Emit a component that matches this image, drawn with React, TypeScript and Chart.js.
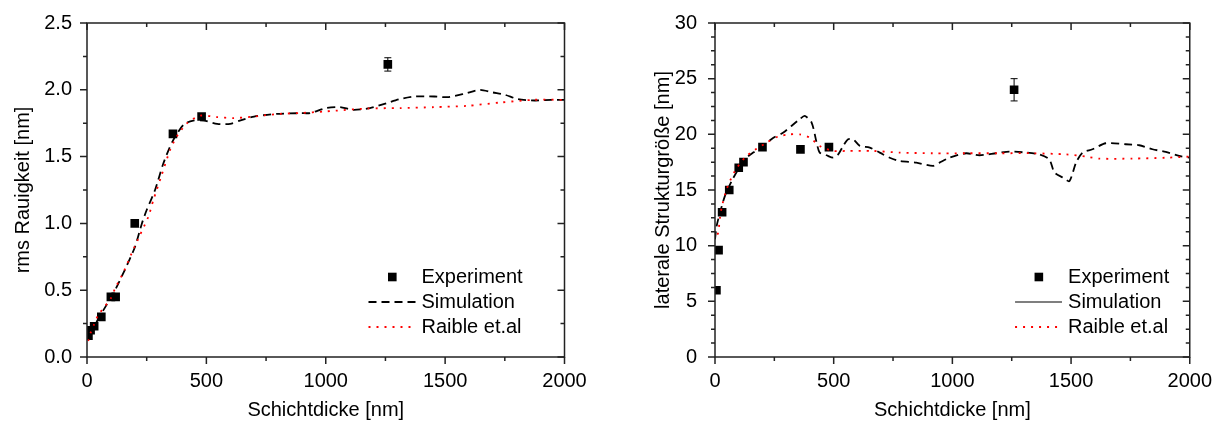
import React, { useEffect, useRef } from "react";
import { Chart, registerables } from "chart.js";

Chart.register(...registerables);

const FONT = '"Liberation Sans", Arial, Helvetica, sans-serif';
const FS = 20;

// Experimental thickness values (nm)
const expX = [6, 15, 30, 60, 100, 120, 200, 360, 480, 1260];
// rms roughness (nm)
const rmsExp = [0.16, 0.2, 0.23, 0.3, 0.45, 0.45, 1.0, 1.67, 1.8, 2.19];
const rmsErr = [0, 0, 0, 0, 0, 0, 0, 0, 0, 0.05];
// lateral structure size (nm)
const latExp = [6.0, 9.6, 13.0, 15.0, 17.0, 17.5, 18.85, 18.65, 18.85, 24.0];
const latErr = [0, 0, 0, 0, 0, 0, 0, 0, 0, 1.0];

// Simulation (rms)
const rmsSimX = [10, 30, 55, 110, 150, 200, 230, 250, 285, 320, 360, 405, 445, 490, 545, 600, 640, 700, 795, 895, 935, 1000, 1060, 1115, 1185, 1255, 1310, 1375, 1455, 1510, 1580, 1645, 1700, 1750, 1805, 1875, 1945, 2000];
const rmsSimY = [0.18, 0.23, 0.31, 0.475, 0.62, 0.82, 1.0, 1.1, 1.25, 1.45, 1.62, 1.74, 1.77, 1.77, 1.745, 1.745, 1.77, 1.8, 1.82, 1.825, 1.826, 1.863, 1.871, 1.85, 1.863, 1.9, 1.93, 1.95, 1.95, 1.945, 1.97, 2.0, 1.98, 1.963, 1.93, 1.92, 1.925, 1.925];
// Raible et al. (rms)
const rmsRaiX = [5, 15, 30, 47, 100, 117, 155, 187, 222, 257, 278, 313, 348, 376, 419, 474, 544, 614, 697, 809, 893, 998, 1173, 1312, 1453, 1593, 1732, 1872, 2000];
const rmsRaiY = [0.12, 0.18, 0.245, 0.313, 0.44, 0.51, 0.643, 0.776, 0.913, 1.05, 1.175, 1.363, 1.55, 1.65, 1.75, 1.806, 1.796, 1.788, 1.8, 1.82, 1.826, 1.838, 1.86, 1.863, 1.87, 1.88, 1.905, 1.925, 1.925];

// Simulation (lateral)
const latSimX = [0, 7, 21, 42, 70, 98, 133, 161, 203, 246, 288, 322, 357, 378, 407, 428, 441, 470, 498, 519, 540, 561, 582, 610, 652, 694, 736, 778, 848, 918, 946, 988, 1058, 1114, 1184, 1240, 1311, 1366, 1408, 1430, 1465, 1493, 1521, 1549, 1590, 1646, 1730, 1787, 1843, 1899, 1955, 2000];
const latSimY = [10.57, 11.77, 12.97, 14.47, 15.8, 16.86, 17.9, 18.36, 18.96, 19.7, 20.16, 20.75, 21.36, 21.65, 21.06, 19.26, 18.36, 18.12, 17.9, 18.2, 18.96, 19.56, 19.56, 18.96, 18.81, 18.36, 17.9, 17.6, 17.46, 17.16, 17.46, 17.9, 18.3, 18.12, 18.3, 18.45, 18.36, 18.2, 17.76, 16.57, 16.12, 15.8, 17.46, 18.36, 18.66, 19.2, 19.11, 19.02, 18.66, 18.42, 18.06, 17.9];
// Raible et al. (lateral)
const latRaiX = [10, 14, 21, 28, 49, 84, 133, 218, 266, 315, 357, 399, 441, 497, 553, 665, 778, 918, 1058, 1198, 1338, 1479, 1563, 1619, 1759, 1899, 2000];
const latRaiY = [11.0, 11.18, 12.52, 13.42, 15.07, 16.71, 18.06, 19.26, 19.8, 20.0, 20.0, 19.71, 18.96, 18.51, 18.51, 18.51, 18.36, 18.3, 18.3, 18.3, 18.3, 18.2, 18.0, 17.82, 17.82, 17.9, 18.0];

const legendLabels = ["Experiment", "Simulation", "Raible et.al"];

const zip = (xs: number[], ys: number[]) => xs.map((x, i) => ({ x, y: ys[i] }));

const framePlugin = {
  id: "frameTicks",
  afterDatasetsDraw(chart: any) {
    const o = chart.options.plugins.frameTicks;
    const { ctx, chartArea: a, scales } = chart;
    const xs = scales.x;
    const ys = scales.y;
    ctx.save();
    // error bars
    chart.data.datasets.forEach((ds: any) => {
      if (!ds.errors) return;
      ctx.strokeStyle = "#000";
      ctx.lineWidth = 1;
      ds.data.forEach((p: any, i: number) => {
        const e = ds.errors[i];
        if (!e) return;
        const px = xs.getPixelForValue(p.x);
        const t = ys.getPixelForValue(p.y + e);
        const b = ys.getPixelForValue(p.y - e);
        ctx.beginPath();
        ctx.moveTo(px, t);
        ctx.lineTo(px, b);
        ctx.moveTo(px - 3.5, t);
        ctx.lineTo(px + 3.5, t);
        ctx.moveTo(px - 3.5, b);
        ctx.lineTo(px + 3.5, b);
        ctx.stroke();
      });
    });
    // frame
    ctx.strokeStyle = "#222";
    ctx.lineWidth = 1.5;
    ctx.strokeRect(a.left, a.top, a.right - a.left, a.bottom - a.top);
    const isMajor = (v: number, step: number) => Math.abs(v / step - Math.round(v / step)) < 1e-6;
    ctx.beginPath();
    const nx = Math.round((xs.max - xs.min) / o.xMinor);
    for (let k = 0; k <= nx; k++) {
      const v = xs.min + k * o.xMinor;
      const len = isMajor(v, o.xMajor) ? 7 : 4;
      const px = xs.getPixelForValue(v);
      ctx.moveTo(px, a.bottom);
      ctx.lineTo(px, a.bottom + len);
      ctx.moveTo(px, a.top);
      ctx.lineTo(px, a.top + len);
    }
    const ny = Math.round((ys.max - ys.min) / o.yMinor);
    for (let k = 0; k <= ny; k++) {
      const v = ys.min + k * o.yMinor;
      const len = isMajor(v, o.yMajor) ? 7 : 4;
      const py = ys.getPixelForValue(v);
      ctx.moveTo(a.left - len, py);
      ctx.lineTo(a.left, py);
      ctx.moveTo(a.right - len, py);
      ctx.lineTo(a.right, py);
    }
    ctx.stroke();

    // legend
    const tx = a.right - o.legendRight;
    const rows = [a.bottom - 80, a.bottom - 55, a.bottom - 30];
    ctx.font = `${FS}px ${FONT}`;
    ctx.textBaseline = "middle";
    ctx.textAlign = "left";
    chart.data.datasets.forEach((ds: any, i: number) => {
      const ry = rows[i];
      ctx.setLineDash([]);
      if (i === 0) {
        ctx.fillStyle = ds.backgroundColor;
        ctx.fillRect(tx - 33.5, ry - 4.3, 8.6, 8.6);
      } else {
        ctx.strokeStyle = ds.borderColor;
        ctx.lineWidth = i === 1 && o.solidSimLegend ? 1.2 : ds.borderWidth;
        ctx.setLineDash(i === 1 && o.solidSimLegend ? [] : ds.borderDash);
        ctx.beginPath();
        ctx.moveTo(tx - 53, ry);
        ctx.lineTo(tx - 6, ry);
        ctx.stroke();
        ctx.setLineDash([]);
      }
      ctx.fillStyle = "#000";
      ctx.fillText(legendLabels[i], tx, ry);
    });
    ctx.restore();
  },
};

type Cfg = {
  expY: number[];
  expErr: number[];
  simX: number[];
  simY: number[];
  raiX: number[];
  raiY: number[];
  yMax: number;
  yStep: number;
  yMinor: number;
  yTitle: string;
  yDecimals: number;
  yWidth: number;
  yTitlePad: number;
  yTickPad: number;
  padRight: number;
  legendRight: number;
  solidSimLegend: boolean;
};

function Panel({ cfg }: { cfg: Cfg }) {
  const ref = useRef<HTMLCanvasElement | null>(null);
  useEffect(() => {
    if (!ref.current) return;
    const chart = new Chart(ref.current, {
      type: "scatter",
      data: {
        datasets: [
          {
            label: legendLabels[0],
            data: zip(expX, cfg.expY),
            errors: cfg.expErr,
            pointStyle: "rect",
            pointRadius: 6.1,
            backgroundColor: "#000",
            borderColor: "#000",
            borderWidth: 0,
            showLine: false,
            order: 3,
          } as any,
          {
            label: legendLabels[1],
            data: zip(cfg.simX, cfg.simY),
            showLine: true,
            pointRadius: 0,
            borderColor: "#000",
            backgroundColor: "#000",
            borderWidth: 1.8,
            borderDash: [8, 5],
            tension: 0.25,
            order: 2,
          },
          {
            label: legendLabels[2],
            data: zip(cfg.raiX, cfg.raiY),
            showLine: true,
            pointRadius: 0,
            borderColor: "#ff0000",
            backgroundColor: "#ff0000",
            borderWidth: 1.8,
            borderDash: [2, 6],
            tension: 0.25,
            order: 1,
          },
        ],
      },
      options: {
        animation: false,
        responsive: false,
        events: [],
        layout: { padding: { left: 0, right: cfg.padRight, top: 23, bottom: 0 } },
        scales: {
          x: {
            type: "linear",
            min: 0,
            max: 2000,
            grid: { display: false },
            border: { display: false },
            ticks: {
              stepSize: 500,
              color: "#000",
              font: { family: FONT, size: FS },
              padding: 4,
              maxRotation: 0,
              callback: (v: any) => String(Math.round(Number(v))),
            },
            title: {
              display: true,
              text: "Schichtdicke [nm]",
              color: "#000",
              font: { family: FONT, size: FS },
              padding: { top: 0, bottom: 0 },
            },
            afterFit: (s: any) => {
              s.height = 65;
            },
          },
          y: {
            type: "linear",
            min: 0,
            max: cfg.yMax,
            grid: { display: false },
            border: { display: false },
            ticks: {
              stepSize: cfg.yStep,
              color: "#000",
              font: { family: FONT, size: FS },
              padding: cfg.yTickPad,
              callback: (v: any) => Number(v).toFixed(cfg.yDecimals),
            },
            title: {
              display: true,
              text: cfg.yTitle,
              color: "#000",
              font: { family: FONT, size: FS },
              padding: { top: cfg.yTitlePad, bottom: 0 },
            },
            afterFit: (s: any) => {
              s.width = cfg.yWidth;
            },
          },
        },
        plugins: {
          legend: { display: false },
          tooltip: { enabled: false },
          frameTicks: {
            xMajor: 500,
            xMinor: 250,
            yMajor: cfg.yStep,
            yMinor: cfg.yMinor,
            legendRight: cfg.legendRight,
            solidSimLegend: cfg.solidSimLegend,
          },
        } as any,
      },
      plugins: [framePlugin],
    } as any);
    return () => chart.destroy();
  }, [cfg]);
  return <canvas ref={ref} width={608} height={422} style={{ display: "block" }} />;
}

const leftCfg: Cfg = {
  expY: rmsExp,
  expErr: rmsErr,
  simX: rmsSimX,
  simY: rmsSimY,
  raiX: rmsRaiX,
  raiY: rmsRaiY,
  yMax: 2.5,
  yStep: 0.5,
  yMinor: 0.25,
  yTitle: "rms Rauigkeit [nm]",
  yDecimals: 1,
  yWidth: 87,
  yTitlePad: 11,
  yTickPad: 7,
  padRight: 43.5,
  legendRight: 143,
  solidSimLegend: false,
};

const rightCfg: Cfg = {
  expY: latExp,
  expErr: latErr,
  simX: latSimX,
  simY: latSimY,
  raiX: latRaiX,
  raiY: latRaiY,
  yMax: 30,
  yStep: 5,
  yMinor: 1.25,
  yTitle: "laterale Strukturgröße [nm]",
  yDecimals: 0,
  yWidth: 107,
  yTitlePad: 43.5,
  yTickPad: 10,
  padRight: 25.3,
  legendRight: 121.7,
  solidSimLegend: true,
};

export default function App() {
  return (
    <div style={{ position: "absolute", left: 0, top: 0, width: 1216, height: 422, display: "flex", background: "#fff" }}>
      <Panel cfg={leftCfg} />
      <Panel cfg={rightCfg} />
    </div>
  );
}
